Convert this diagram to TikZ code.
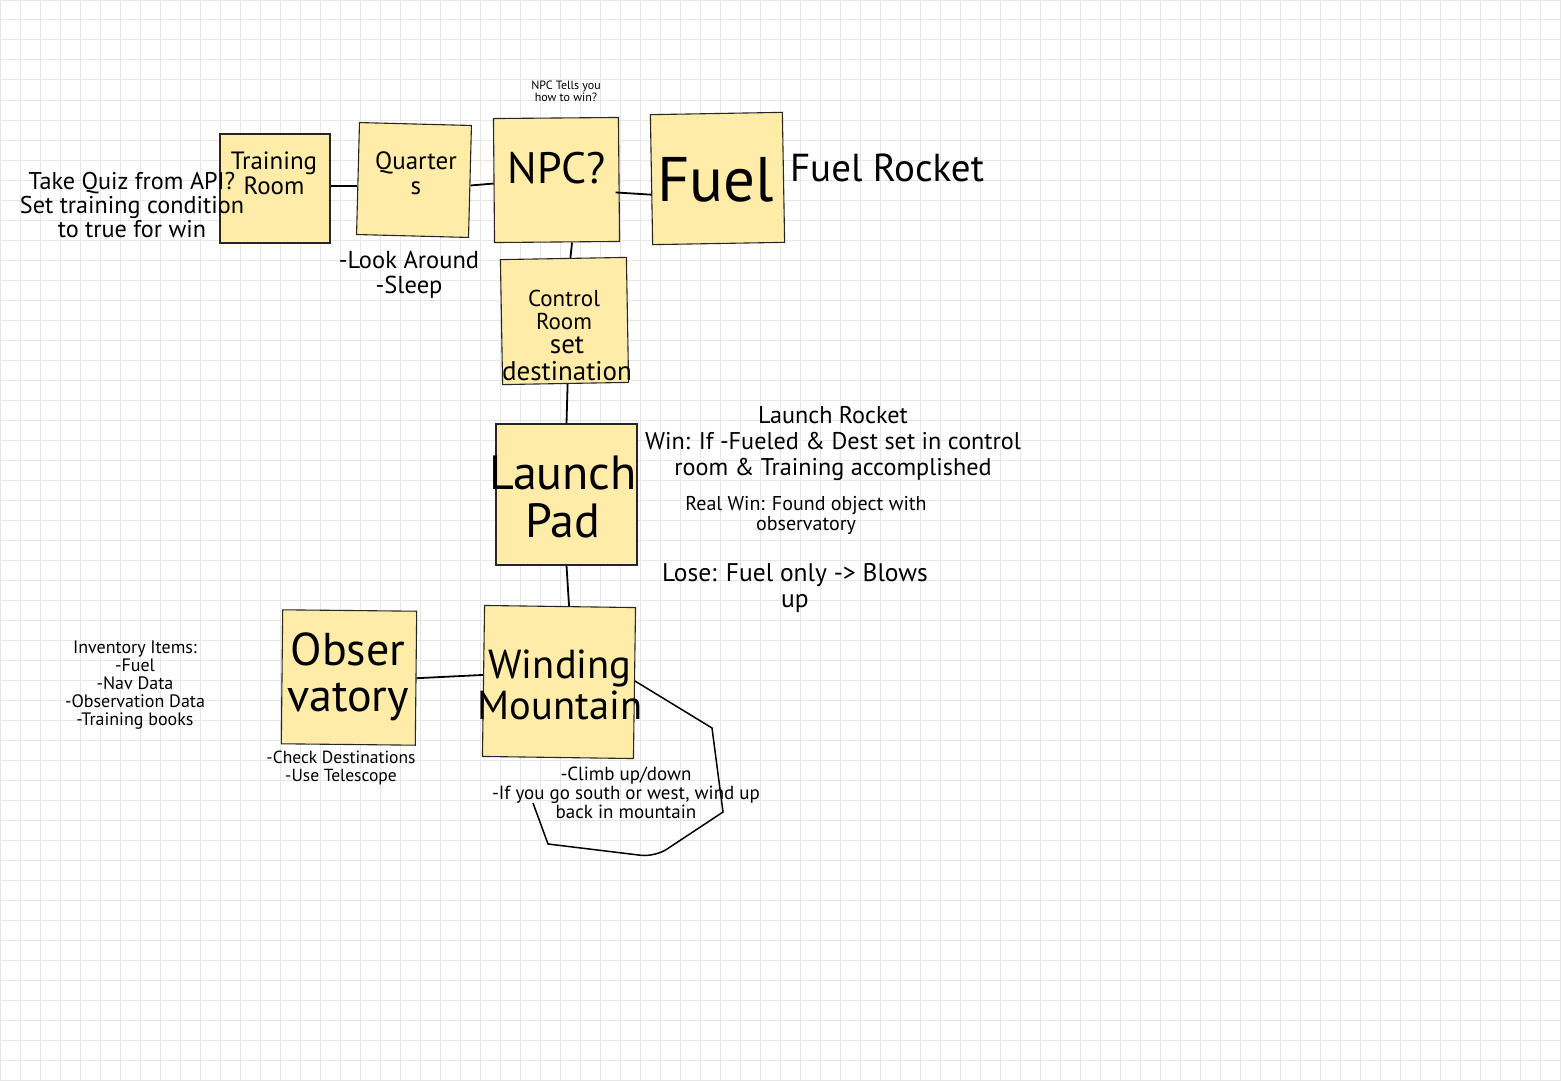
\documentclass[tikz,border=0pt]{standalone}
\usepackage{fontspec}
\setmainfont{PT Sans}
\usepackage{xcolor}
\usetikzlibrary{positioning}

\definecolor{notefill}{RGB}{255,236,168}
\definecolor{gridgray}{RGB}{230,230,230}
\newcommand{\fsz}[1]{\fontsize{#1}{#1}\selectfont}

\begin{document}
\begin{tikzpicture}[x=1pt, y=-1pt]
\tikzstyle{room} = [rectangle, draw=black!85, fill=notefill, line width=1.1pt, inner sep=0pt]
\tikzstyle{link} = [line width=1.8pt, draw=black]
\tikzstyle{remark} = [align=center, inner sep=0pt]
\tikzstyle{gridline} = [draw=gridgray, line width=1pt, step=20pt]

\useasboundingbox (0,0) rectangle (1561,1081);
\fill [white] (0,0) rectangle (1561,1081);
\draw [gridline] (0,0) grid (1561,1081);

% rooms
\node (training) [room, minimum width=110, minimum height=109] at (275,188.5) {};
\node (quarters) [room, minimum width=112, minimum height=112, rotate=-1.5] at (414,180) {};
\node (npc) [room, minimum width=125, minimum height=124, rotate=0.5] at (556.5,180) {};
\node (fuel) [room, minimum width=132, minimum height=130, rotate=1] at (717.5,178.5) {};
\node (control) [room, minimum width=126, minimum height=125, rotate=1] at (564.5,321) {};
\node (launch) [room, minimum width=141, minimum height=141] at (566.5,494.5) {};
\node (winding) [room, minimum width=151, minimum height=151, rotate=-0.8] at (559,682) {};
\node (observatory) [room, minimum width=134, minimum height=134, rotate=-0.6] at (349,677.5) {};

% room names
\node (trainingText) [remark, font=\fsz{25}] at (274,173.5) {Training\\Room};
\node (quartersText) [remark, font=\fsz{25}] at (416,173.5) {Quarter\\s};
\node (npcText) [remark, font=\fsz{44}] at (556.5,168) {NPC?};
\node (fuelText) [remark, font=\fsz{63}] at (715.5,180) {Fuel};
\node (controlTop) [remark, font=\fsz{23}] at (564,309.5) {Control\\Room};
\node (controlBottom) [remark, font=\fsz{27}] at (567,359) {set\\destination};
\node (launchText) [remark, font=\fsz{48}] at (563,497) {Launch\\Pad};
\node (observatoryText) [remark, font=\fsz{46}] at (348,676.5) {Obser\\vatory};
\node (windingText) [remark, font=\fsz{40.5}] at (560,685) {Winding\\Mountain};

% connectors
\draw [link] ([yshift=2.5]training.east) -- ([yshift=2.5]training.east -| quarters.west);
\draw [link] ([yshift=-4]quarters.east) -- ([yshift=-3]npc.west);
\draw [link] ([xshift=-4,yshift=-13]npc.east) -- ([yshift=-15]fuel.west);
\draw [link] ([xshift=15]npc.south) -- ([xshift=7]control.north);
\draw [link] ([xshift=2]control.south) -- (launch.north);
\draw [link] (launch.south) -- ([xshift=9]winding.north);
\draw [link] (observatory.east) -- ([yshift=6]winding.west);
\coordinate (loopEnd) at (533,803);
\draw [link, line width=1.5pt] ([yshift=2]winding.east) -- (712,728) -- (723,812)
  [rounded corners=14] -- (655,857) [sharp corners] -- (548,844) -- (loopEnd);

% notes
\node (quizNote) [remark, font=\fsz{24.2}] at (132,205) {Take Quiz from API?\\Set training condition\\to true for win};
\node (npcHint) [remark, font=\fsz{12}] at (566,91.5) {NPC Tells you\\how to win?};
\node (fuelNote) [remark, font=\fsz{39}] at (887,168) {Fuel Rocket};
\node (quartersNote) [remark, font=\fsz{24.5}] at (409,274.5) {-Look Around\\-Sleep};
\node (rocketNote) [remark, font=\fontsize{24.2}{26}\selectfont] at (833,443) {Launch Rocket\\Win: If -Fueled \& Dest set in control\\room \& Training accomplished};
\node (realWinNote) [remark, font=\fsz{20}] at (806,515) {Real Win: Found object with\\observatory};
\node (loseNote) [remark, font=\fsz{25.5}] at (795,588) {Lose: Fuel only -> Blows\\up};
\node (inventoryNote) [remark, font=\fsz{18}] at (135,685) {Inventory Items:\\-Fuel\\-Nav Data\\-Observation Data\\-Training books};
\node (observatoryNote) [remark, font=\fsz{17.5}] at (341,768) {-Check Destinations\\-Use Telescope};
\node (windingNote) [remark, font=\fsz{19}] at (626,793) {-Climb up/down\\-If you go south or west, wind up\\back in mountain};

\end{tikzpicture}
\end{document}
